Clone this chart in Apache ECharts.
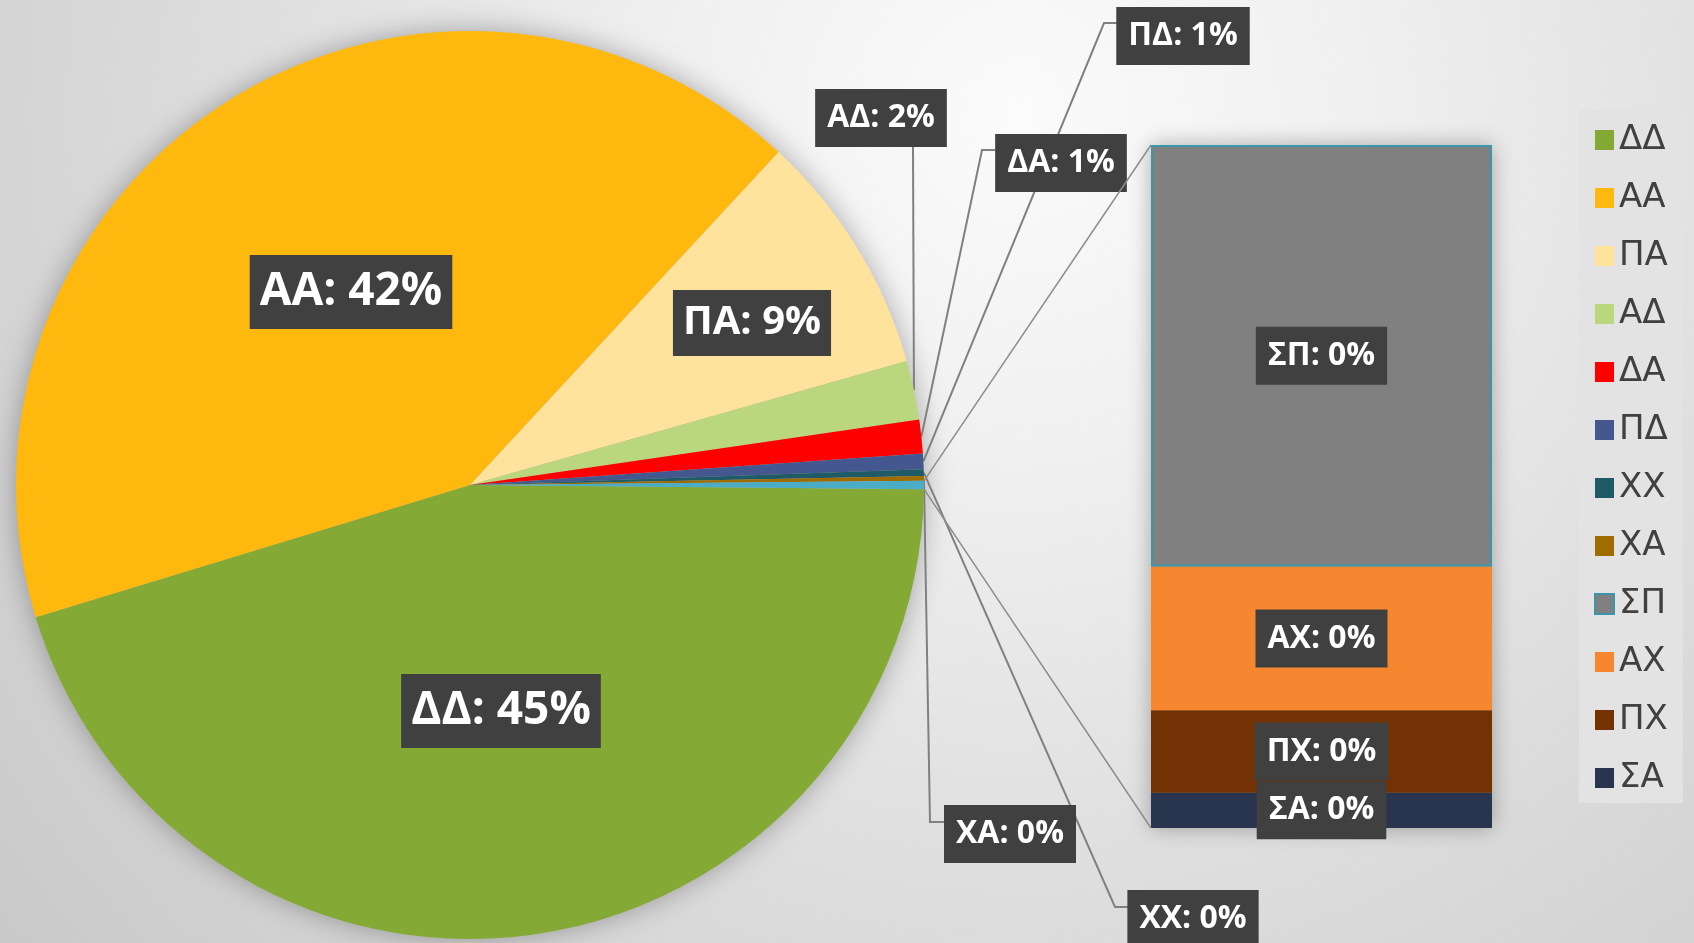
<!DOCTYPE html>
<html>
<head>
<meta charset="utf-8">
<script src="https://cdn.jsdelivr.net/npm/echarts@6/dist/echarts.min.js"></script>
<style>
    html, body {
        margin: 0;
        padding: 0;
        width: 1694px;
        height: 943px;
        overflow: hidden;
    }
    body {
        background: radial-gradient(circle at 60% 12%, #fbfbfb 0%, #efefef 28%, #dcdcdc 62%, #c9c9c9 100%);
    }
    #main {
        width: 1694px;
        height: 943px;
    }
</style>
</head>
<body>
<div id="main"></div>
<script>
// pie slices (percent of total), clockwise from 3 o'clock
var pieNames = ['ΔΔ', 'ΑΑ', 'ΠΑ', 'ΑΔ', 'ΔΑ', 'ΠΔ', 'ΧΧ', 'ΧΑ'];
var pieValues = [45.15, 41.6, 8.7, 2.1, 1.2, 0.55, 0.24, 0.17];
var pieColors = ['#84a934', '#ffb80d', '#ffe29b', '#bbd77e', '#ff0000', '#44578f', '#1f5a67', '#9e6c00'];

// breakdown of the "other" slice, shown in the bar (bottom to top)
var barNames = ['ΣΑ', 'ΠΧ', 'ΑΧ', 'ΣΠ'];
var barValues = [0.015, 0.035, 0.061, 0.179];
var barColors = ['#29344f', '#723203', '#f68730', '#808080'];

var legendNames = ['ΔΔ', 'ΑΑ', 'ΠΑ', 'ΑΔ', 'ΔΑ', 'ΠΔ', 'ΧΧ', 'ΧΑ', 'ΣΠ', 'ΑΧ', 'ΠΧ', 'ΣΑ'];

// layout
var pieCenter = [470, 485];
var pieRadius = 454;
var barBox = {left: 1151, top: 145, width: 341, height: 683};
// label box centres, same order as pieNames
var pieLabelPos = [[501, 711], [351, 292], [752, 323], [881, 118], [1061, 163], [1183, 36], [1193, 919], [1010, 834]];
// leader line bends (after the point on the slice edge)
var pieLabelBend = [null, null, null,
    [[913, 147], [913, 147]],
    [[982, 150], [995, 150]],
    [[1104, 23], [1117, 23]],
    [[1115, 907], [1128, 907]],
    [[930, 822], [944, 822]]];

var bigLabel = {fontSize: 46, lineHeight: 54, padding: [10, 10]};
var midLabel = {fontSize: 40, lineHeight: 48, padding: [9, 10]};
var smallLabel = {fontSize: 32, lineHeight: 40, padding: [9, 12]};
var pieLabelStyle = [bigLabel, bigLabel, midLabel];

var otherTotal = 0;
for (var i = 0; i < barValues.length; i++) {
    otherTotal += barValues[i];
}
var total = otherTotal;
for (var i = 0; i < pieValues.length; i++) {
    total += pieValues[i];
}
var otherDeg = otherTotal / total * 360;

var pieData = [];
for (var i = 0; i < pieNames.length; i++) {
    var inside = i < 3;
    pieData.push({
        name: pieNames[i],
        value: pieValues[i],
        itemStyle: {color: pieColors[i]},
        label: inside ? pieLabelStyle[i] : smallLabel,
        labelLine: {show: !inside}
    });
}
pieData.push({
    name: 'other',
    value: otherTotal,
    itemStyle: {color: '#4bacc6'},
    label: {show: false},
    labelLine: {show: false}
});

var labelBase = {
    show: true,
    color: '#ffffff',
    fontFamily: 'Open Sans',
    fontWeight: 'bold',
    backgroundColor: '#404040'
};

var series = [{
    type: 'pie',
    center: pieCenter,
    radius: pieRadius,
    startAngle: -otherDeg / 2,
    clockwise: true,
    avoidLabelOverlap: false,
    silent: true,
    z: 3,
    label: Object.assign({}, labelBase, {
        position: 'outside',
        formatter: function (p) {
            return p.name + ': ' + Math.round(p.percent) + '%';
        }
    }),
    labelLine: {
        show: true,
        length: 10,
        length2: 10,
        lineStyle: {color: '#808080', width: 2}
    },
    labelLayout: function (p) {
        var pos = pieLabelPos[p.dataIndex];
        if (!pos) {
            return;
        }
        var out = {x: pos[0], y: pos[1], align: 'center', verticalAlign: 'middle'};
        var bend = pieLabelBend[p.dataIndex];
        if (bend && p.labelLinePoints) {
            out.labelLinePoints = [p.labelLinePoints[0]].concat(bend);
        }
        return out;
    },
    data: pieData
}];

for (var i = 0; i < barNames.length; i++) {
    var style = {color: barColors[i]};
    if (barNames[i] === 'ΣΠ') {
        style.borderColor = '#3a97ab';
        style.borderWidth = 2;
    }
    series.push({
        type: 'bar',
        name: barNames[i],
        stack: 'other',
        barWidth: '100%',
        silent: true,
        z: 3,
        itemStyle: style,
        label: Object.assign({}, labelBase, smallLabel, {
            position: 'inside',
            formatter: function (p) {
                return p.seriesName + ': ' + Math.round(p.value / total * 100) + '%';
            }
        }),
        data: [barValues[i]]
    });
}

// lines joining the "other" slice to the bar
var a = otherDeg / 2 * Math.PI / 180;
var upper = [pieCenter[0] + pieRadius * Math.cos(a), pieCenter[1] - pieRadius * Math.sin(a)];
var lower = [pieCenter[0] + pieRadius * Math.cos(a), pieCenter[1] + pieRadius * Math.sin(a)];

var option = {
    animation: false,
    grid: {
        left: barBox.left,
        top: barBox.top,
        width: barBox.width,
        height: barBox.height
    },
    xAxis: {type: 'category', data: ['other'], show: false},
    yAxis: {type: 'value', min: 0, max: otherTotal, show: false},
    legend: {
        orient: 'vertical',
        left: 1579,
        top: 109,
        padding: [14, 15, 8, 15],
        backgroundColor: '#e3e3e3',
        itemWidth: 19,
        itemHeight: 20,
        itemGap: 24,
        icon: 'rect',
        selectedMode: false,
        textStyle: {fontSize: 34, lineHeight: 34, color: '#404040', fontFamily: 'DejaVu Sans'},
        data: legendNames
    },
    graphic: [{
        type: 'circle',
        z: 0,
        shape: {cx: pieCenter[0], cy: pieCenter[1], r: pieRadius - 2},
        style: {fill: '#b0b0b0', shadowBlur: 30, shadowColor: 'rgba(0,0,0,0.35)'}
    }, {
        type: 'rect',
        z: 0,
        shape: {x: barBox.left, y: barBox.top, width: barBox.width, height: barBox.height},
        style: {fill: '#909090', shadowBlur: 20, shadowColor: 'rgba(0,0,0,0.3)'}
    }, {
        type: 'line',
        z: 5,
        shape: {x1: upper[0], y1: upper[1], x2: barBox.left, y2: barBox.top},
        style: {stroke: '#8c8c8c', lineWidth: 1.5}
    }, {
        type: 'line',
        z: 5,
        shape: {x1: lower[0], y1: lower[1], x2: barBox.left, y2: barBox.top + barBox.height},
        style: {stroke: '#8c8c8c', lineWidth: 1.5}
    }],
    series: series
};

var myChart = echarts.init(document.getElementById('main'));
myChart.setOption(option);
</script>
</body>
</html>
